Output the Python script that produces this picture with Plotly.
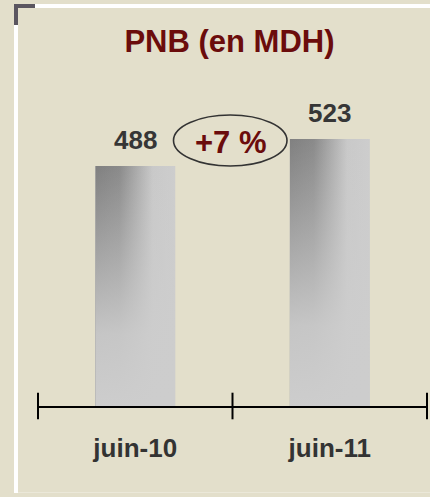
import plotly.graph_objects as go

# Data
categories = ["juin-10", "juin-11"]
pnb_values = [488, 523]
title_text = "PNB (en MDH)"

growth = round((pnb_values[1] / pnb_values[0] - 1) * 100)
growth_label = f"+{growth} %"

# Geometry of the plotting area (pixels)
W, H = 430, 497
ML, MR, MT, MB = 38, 3, 100, 91
PLOT_W = W - ML - MR
PLOT_H = H - MT - MB
Y_MIN, Y_MAX = 177, 573.7
BAR_W = 0.41


def px_x(p):
    return (p - ML) / PLOT_W


def px_y(p):
    return (H - MB - p) / PLOT_H


xs = list(range(len(categories)))

fig = go.Figure()

# Base bars
fig.add_trace(go.Bar(
    x=xs, y=pnb_values, width=BAR_W,
    marker=dict(color="#cdcdcd", line=dict(width=0)),
    hoverinfo="x+y", showlegend=False,
))

# Shading overlays on each bar: horizontal dark-to-light, then fade toward the base
for xc, v in zip(xs, pnb_values):
    px = [xc - BAR_W / 2, xc + BAR_W / 2, xc + BAR_W / 2, xc - BAR_W / 2, xc - BAR_W / 2]
    py = [Y_MIN, Y_MIN, v, v, Y_MIN]
    fig.add_trace(go.Scatter(
        x=px, y=py, mode="lines", fill="toself", line=dict(width=0),
        fillgradient=dict(
            type="horizontal",
            colorscale=[[0, "#808080"], [0.3, "#8a8a8a"], [0.72, "#c9c9c9"], [1, "#cdcdcd"]],
        ),
        hoverinfo="skip", showlegend=False,
    ))
    fig.add_trace(go.Scatter(
        x=px, y=py, mode="lines", fill="toself", line=dict(width=0),
        fillgradient=dict(
            type="vertical", start=Y_MIN, stop=v,
            colorscale=[[0, "rgba(205,205,205,1)"], [0.3, "rgba(205,205,205,0.9)"],
                        [1, "rgba(205,205,205,0)"]],
        ),
        hoverinfo="skip", showlegend=False,
    ))

# Tick marks crossing the category axis at the category boundaries
bounds = [xs[0] - 0.5] + [x + 0.5 for x in xs]
fig.add_trace(go.Scatter(
    x=bounds, y=[Y_MIN] * len(bounds), mode="markers",
    marker=dict(symbol="line-ns", size=19, line=dict(width=2, color="#000000")),
    cliponaxis=False, hoverinfo="skip", showlegend=False,
))

# Value labels above bars
for xc, v in zip(xs, pnb_values):
    fig.add_annotation(
        x=xc, y=v, text=f"<b>{v}</b>", showarrow=False,
        yanchor="middle", yshift=26,
        font=dict(family="Liberation Sans, Arial, sans-serif", size=26, color="#363636"),
    )

# Growth label with ellipse
fig.add_annotation(
    x=px_x(231), y=px_y(142), xref="paper", yref="paper",
    text=f"<b>{growth_label}</b>", showarrow=False,
    xanchor="center", yanchor="middle",
    font=dict(family="Liberation Sans, Arial, sans-serif", size=31, color="#6b0c0c"),
)

shapes = [
    # frame: white edges
    dict(type="rect", xref="paper", yref="paper", x0=px_x(35), x1=px_x(W), y0=px_y(8), y1=px_y(4),
         fillcolor="#ffffff", line=dict(width=0), layer="below"),
    dict(type="rect", xref="paper", yref="paper", x0=px_x(14), x1=px_x(18), y0=px_y(493), y1=px_y(25),
         fillcolor="#ffffff", line=dict(width=0), layer="below"),
    # dark corner bracket
    dict(type="rect", xref="paper", yref="paper", x0=px_x(14), x1=px_x(35), y0=px_y(8), y1=px_y(4),
         fillcolor="#5b5660", line=dict(width=0), layer="below"),
    dict(type="rect", xref="paper", yref="paper", x0=px_x(14), x1=px_x(18), y0=px_y(25), y1=px_y(4),
         fillcolor="#5b5660", line=dict(width=0), layer="below"),
    # faint bottom edge of the panel
    dict(type="line", xref="paper", yref="paper", x0=px_x(18), x1=px_x(W), y0=px_y(492.5), y1=px_y(492.5),
         line=dict(color="#ebe8d9", width=1), layer="below"),
    # ellipse around growth label
    dict(type="circle", xref="paper", yref="paper",
         x0=px_x(173.5), x1=px_x(287), y0=px_y(166), y1=px_y(115),
         line=dict(color="#333333", width=1.6), fillcolor="rgba(0,0,0,0)"),
]

fig.update_layout(
    width=W, height=H,
    margin=dict(l=ML, r=MR, t=MT, b=MB),
    paper_bgcolor="#e3dfcb",
    plot_bgcolor="rgba(0,0,0,0)",
    barmode="overlay",
    showlegend=False,
    shapes=shapes,
    title=dict(
        text=f"<b>{title_text}</b>", x=229.5 / W, xref="container", xanchor="center",
        y=1 - 41 / H, yref="container", yanchor="middle",
        font=dict(family="Liberation Sans, Arial, sans-serif", size=31, color="#6b0c0c"),
    ),
    xaxis=dict(
        range=[xs[0] - 0.5, xs[-1] + 0.5],
        tickvals=xs, ticktext=[f"<b>{c}</b>" for c in categories],
        ticks="", showgrid=False, zeroline=False,
        showline=True, linecolor="#000000", linewidth=2,
        ticklabelstandoff=18,
        tickfont=dict(family="Liberation Sans, Arial, sans-serif", size=26, color="#333333"),
    ),
    yaxis=dict(range=[Y_MIN, Y_MAX], visible=False, showgrid=False, zeroline=False),
)

fig.write_html("out.html")
